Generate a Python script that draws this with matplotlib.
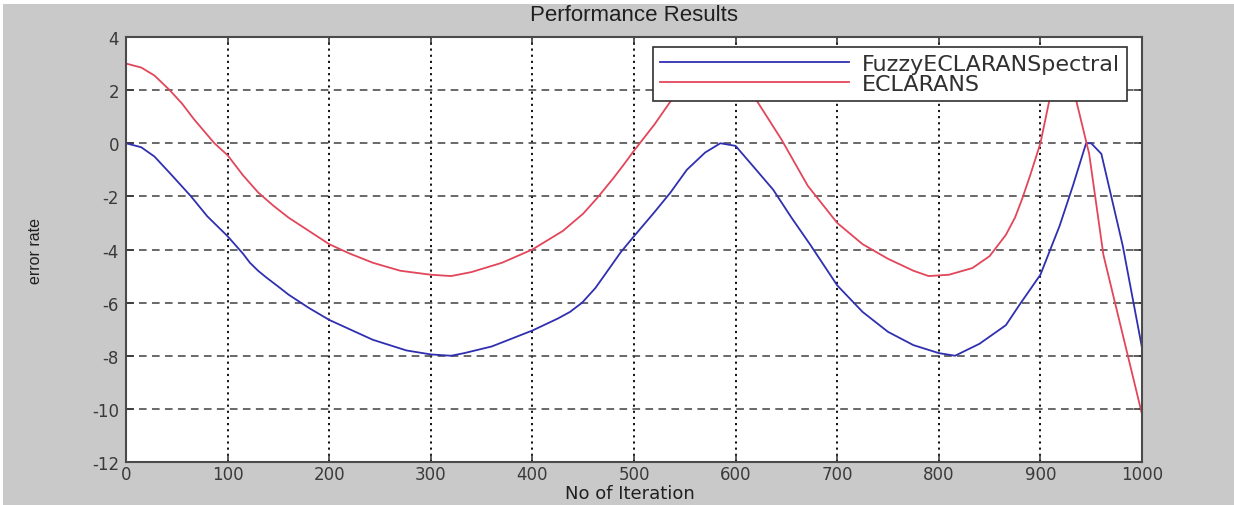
import matplotlib
matplotlib.use("Agg")
from matplotlib import pyplot as plt
from matplotlib.patches import Rectangle

# values
iter_fuzzy = [0, 15, 28, 45, 64, 80, 100, 115, 122, 130, 138, 150, 160, 180, 200, 220, 243,
              276, 300, 320, 333, 360, 400, 425, 437, 449, 462, 475, 487, 500, 520, 536, 552,
              570, 585, 600, 618, 637, 655, 674, 700, 725, 750, 775, 800, 816, 840, 866, 880,
              890, 900, 919, 932, 945, 950, 960, 981, 1000]
err_fuzzy = [0.0, -0.15, -0.5, -1.2, -2.0, -2.75, -3.5, -4.15, -4.5, -4.8, -5.05, -5.4, -5.7,
             -6.2, -6.65, -7.0, -7.4, -7.8, -7.95, -8.0, -7.9, -7.65, -7.05, -6.6, -6.35, -6.0,
             -5.45, -4.75, -4.1, -3.5, -2.6, -1.85, -1.0, -0.35, 0.0, -0.1, -0.9, -1.75, -2.8,
             -3.85, -5.35, -6.35, -7.1, -7.6, -7.9, -8.0, -7.55, -6.85, -6.05, -5.5, -4.95,
             -3.1, -1.6, 0.0, 0.0, -0.4, -3.85, -7.7]

iter_eclarans = [0, 15, 28, 43, 55, 67, 87, 100, 115, 130, 145, 160, 180, 200, 220, 243, 270,
                 300, 320, 340, 370, 400, 430, 450, 464, 480, 490, 500, 520, 540, 555, 570, 585,
                 600, 610, 620, 645, 671, 700, 725, 750, 775, 790, 810, 833, 850, 866, 875, 882,
                 890, 900, 909, 916, 922, 928, 935, 948, 962, 981, 1000]
err_eclarans = [3.0, 2.85, 2.55, 2.0, 1.5, 0.9, 0.0, -0.45, -1.2, -1.85, -2.35, -2.8, -3.3,
                -3.8, -4.15, -4.5, -4.8, -4.95, -5.0, -4.85, -4.5, -4.0, -3.3, -2.65, -2.05,
                -1.3, -0.8, -0.28, 0.7, 1.8, 2.5, 2.9, 3.0, 2.75, 2.3, 1.65, 0.15, -1.6, -3.0,
                -3.8, -4.35, -4.8, -5.0, -4.95, -4.7, -4.25, -3.45, -2.8, -2.1, -1.2, 0.0, 1.65,
                2.7, 3.0, 2.6, 1.65, -0.4, -4.2, -7.2, -10.2]

series_labels = ["FuzzyECLARANSpectral", "ECLARANS"]
x_ticks = [0, 100, 200, 300, 400, 500, 600, 700, 800, 900, 1000]
y_ticks = [4, 2, 0, -2, -4, -6, -8, -10, -12]

plt.rcParams["axes.unicode_minus"] = False
plt.rcParams["font.family"] = ["DejaVu Sans"]

W, H = 1234, 506
fig = plt.figure(figsize=(W / 100, H / 100), dpi=100, facecolor="white")
# matlab-ish grey window, thin white strip on top/left
fig.patches.append(Rectangle((3 / W, 0), 1, (H - 5) / H, transform=fig.transFigure,
                             facecolor="#c9c9c9", edgecolor="none", zorder=-10))

left, right, top, bottom = 126, 1142, 38, 463
ax = fig.add_axes([left / W, (H - bottom) / H, (right - left) / W, (bottom - top) / H])
ax.set_facecolor("white")

ax.plot(iter_fuzzy, err_fuzzy, color="#2f2fb0", lw=1.3, label=series_labels[0])
ax.plot(iter_eclarans, err_eclarans, color="#e2465a", lw=1.3, label=series_labels[1])

ax.set_xlim(0, 1000)
ax.set_ylim(-12, 4)
ax.set_xticks(x_ticks)
ax.set_yticks(y_ticks)
ax.set_xticklabels([str(t) for t in x_ticks])
ax.set_yticklabels([str(t) for t in y_ticks])

# vertical grid dotted, horizontal grid dashed
ax.xaxis.grid(True, linestyle=(0, (1.2, 2.2)), color="black", lw=1.3)
ax.yaxis.grid(True, linestyle=(0, (5, 3.5)), color="#404040", lw=1.1)
ax.set_axisbelow(True)

ax.tick_params(direction="in", length=6, width=1.1, colors="#303030",
               top=True, right=True, labelsize=12)
ax.tick_params(axis="x", pad=2)
ax.tick_params(axis="y", pad=5)
for lab in ax.get_xticklabels() + ax.get_yticklabels():
    lab.set_color("#3a3a3a")
for sp in ax.spines.values():
    sp.set_color("#4a4a4a")
    sp.set_linewidth(1.5)

ax.set_title("Performance Results", family=["Liberation Sans", "DejaVu Sans"],
             fontsize=16, color="#202020", pad=12)
ax.set_xlabel("No of Iteration", fontsize=13, color="#202020")
ax.xaxis.set_label_coords(0.496, -0.0525)
ax.set_ylabel("error rate", family=["Liberation Sans", "DejaVu Sans"],
              fontsize=11.5, color="#202020")
ax.yaxis.set_label_coords(-0.082, 0.5)

# long handles so the box spans the same width as the original legend
leg = ax.legend(loc="upper right", bbox_to_anchor=(1127 / W, (H - 48) / H),
                bbox_transform=fig.transFigure, borderaxespad=0, fancybox=False,
                framealpha=1, edgecolor="#303030", fontsize=16, handlelength=8.5,
                handletextpad=0.6, labelspacing=0.02, borderpad=0.3)
leg.get_frame().set_linewidth(1.2)
for t in leg.get_texts():
    t.set_color("#303030")

fig.savefig("out.png", dpi=100, facecolor=fig.get_facecolor())
